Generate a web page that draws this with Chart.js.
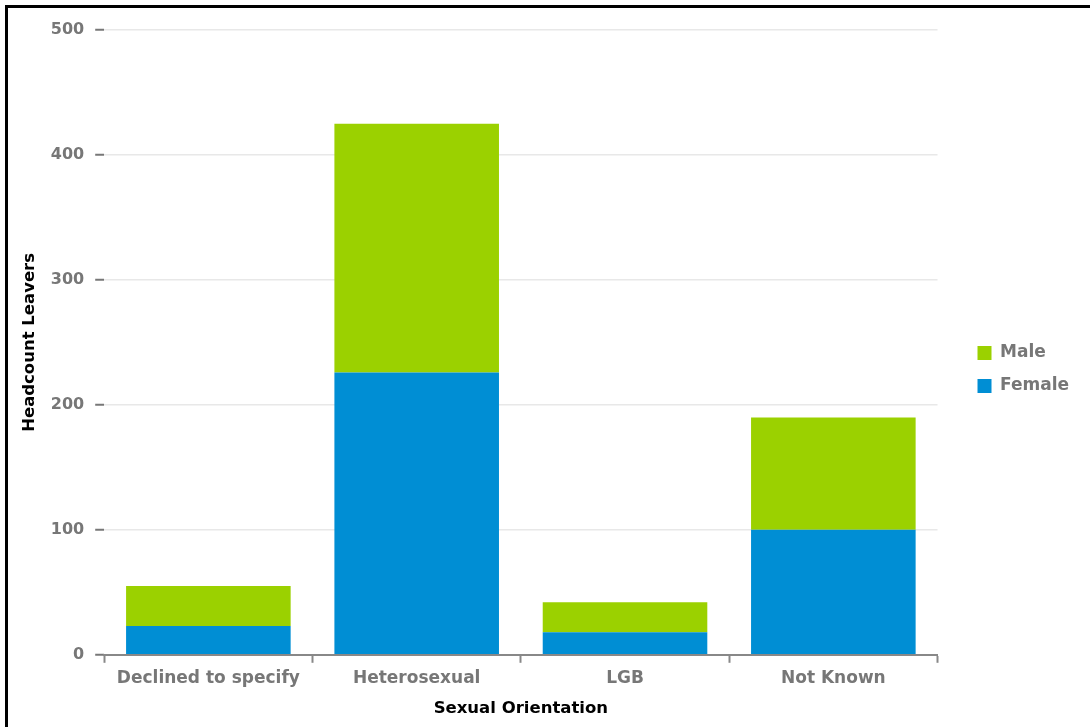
<!DOCTYPE html>
<html>
<head>
<meta charset="utf-8">
<script src="https://cdn.jsdelivr.net/npm/chart.js@4.4.1/dist/chart.umd.min.js"></script>
<style>
  html, body { margin: 0; padding: 0; background: #fff; }
  #wrap { position: relative; width: 1090px; height: 727px; overflow: hidden; }
  #frame {
    position: absolute; left: 5px; top: 5px; width: 1100px; height: 719px;
    border-left: 3px solid #000; border-top: 3px solid #000; border-bottom: 1px solid #aaa;
    pointer-events: none;
  }
  canvas { position: absolute; left: 0; top: 0; }
</style>
</head>
<body>
<div id="wrap">
  <canvas id="chart" width="1090" height="727"></canvas>
  <div id="frame"></div>
</div>
<script>
const categories = ["Declined to specify", "Heterosexual", "LGB", "Not Known"];
const female = [23, 226, 18, 100];
const male = [32, 199, 24, 90];
const yTicks = [0, 100, 200, 300, 400, 500];

const grey = "#777777";
const font = "'DejaVu Sans', Verdana, sans-serif";

// nudge the legend right of the plot and a little up
const legendShiftX = 24;
const legendShiftY = -5;
const shiftLegend = {
  id: "shiftLegend",
  afterLayout(chart) {
    const lg = chart.legend;
    lg.left += legendShiftX;
    lg.right += legendShiftX;
    lg.top += legendShiftY;
    lg.bottom += legendShiftY;
  }
};

const ctx = document.getElementById("chart").getContext("2d");
const chart = new Chart(ctx, {
  type: "bar",
  data: {
    labels: categories,
    datasets: [
      { label: "Female", data: female, backgroundColor: "#008ed4", borderWidth: 0 },
      { label: "Male", data: male, backgroundColor: "#9bd100", borderWidth: 0 }
    ]
  },
  plugins: [shiftLegend],
  options: {
    responsive: false,
    animation: false,
    barPercentage: 0.79,
    categoryPercentage: 1.0,
    layout: { padding: { left: 20, top: 30, right: 35, bottom: 8 } },
    plugins: {
      tooltip: { enabled: false },
      legend: {
        position: "right",
        reverse: true,
        labels: {
          boxWidth: 14,
          boxHeight: 14,
          padding: 16,
          color: grey,
          font: { family: font, size: 17, weight: "bold" }
        }
      }
    },
    scales: {
      x: {
        stacked: true,
        grid: {
          display: true,
          drawOnChartArea: false,
          drawTicks: true,
          tickLength: 8,
          tickColor: "#888",
          tickWidth: 2,
          offset: true
        },
        border: { display: true, color: "#888", width: 2 },
        ticks: {
          color: grey,
          padding: 6,
          font: { family: font, size: 17, weight: "bold" }
        },
        title: {
          display: true,
          text: "Sexual Orientation",
          color: "#000",
          padding: { top: 4, bottom: 0 },
          font: { family: font, size: 16.5, weight: "bold" }
        }
      },
      y: {
        stacked: true,
        min: 0,
        max: 500,
        afterBuildTicks: axis => { axis.ticks = yTicks.map(v => ({ value: v })); },
        grid: {
          color: "#e8e8e8",
          lineWidth: 1.5,
          tickColor: grey,
          tickLength: 9,
          tickWidth: 2
        },
        border: { display: false },
        ticks: {
          color: grey,
          padding: 11,
          font: { family: font, size: 16, weight: "bold" }
        },
        title: {
          display: true,
          text: "Headcount Leavers",
          color: "#000",
          padding: { top: 0, bottom: 0 },
          font: { family: font, size: 16.5, weight: "bold" }
        }
      }
    }
  }
});
</script>
</body>
</html>
